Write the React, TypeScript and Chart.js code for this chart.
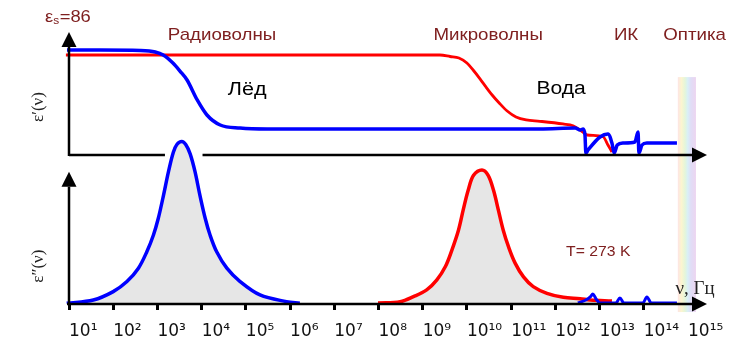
import React, { useEffect, useRef } from "react";
import { Chart, registerables } from "chart.js";

Chart.register(...registerables);

// x values are log10(frequency, Hz)
const DECADES = [1, 2, 3, 4, 5, 6, 7, 8, 9, 10, 11, 12, 13, 14, 15];
const TICK_LABELS = ["10¹", "10²", "10³", "10⁴", "10⁵", "10⁶", "10⁷", "10⁸", "10⁹", "10¹⁰", "10¹¹", "10¹²", "10¹³", "10¹⁴", "10¹⁵"];

// ε'(ν) — ice (blue)
const iceRealLog = [0.955, 1.7, 2.61, 2.95, 3.13, 3.35, 3.51, 3.67, 3.9, 4.12, 4.42, 4.87, 5.48, 8.49, 11.65, 12.45, 12.56, 12.63, 12.67, 12.69, 12.74, 13.01, 13.19, 13.28, 13.33, 13.4, 13.53, 13.8, 13.87, 13.89, 13.96, 14.07, 14.75];
const iceRealVal = [90.3, 90.3, 89.9, 88.6, 86.0, 79.1, 72.2, 64.5, 47.3, 34.4, 25.8, 23.2, 22.4, 22.4, 22.4, 23.2, 21.5, 22.4, 17.2, 1.7, 4.3, 15.5, 18.1, 10.3, 1.7, 8.6, 10.3, 11.2, 19.8, 1.7, 8.6, 10.3, 10.3];

// ε'(ν) — water (red)
const waterRealLog = [0.93, 6.0, 9.39, 9.62, 9.82, 10.0, 10.14, 10.3, 10.43, 10.57, 10.73, 10.91, 11.11, 11.34, 11.65, 12.17, 12.4, 12.56, 12.72, 13.08, 13.19, 13.28];
const waterRealVal = [86, 86, 86, 84.7, 83.4, 79.1, 73.1, 65.3, 58.5, 51.6, 44.7, 37.8, 32.7, 30.1, 29.0, 26.7, 25.2, 21.5, 17.2, 15.7, 8.6, 2.6];

// ε''(ν) — ice (blue)
const iceLossLog = [0.948, 1.55, 2.0, 2.31, 2.57, 2.76, 2.91, 3.02, 3.13, 3.25, 3.36, 3.44, 3.55, 3.64, 3.74, 3.85, 3.96, 4.08, 4.19, 4.34, 4.57, 4.87, 5.32, 5.92, 6.22];
const iceLossVal = [0.2, 1.2, 3.7, 6.7, 10.7, 15.6, 20.6, 25.6, 32.0, 39.5, 45.3, 47.6, 48.5, 47.6, 44.8, 39.5, 32.5, 25.6, 20.6, 15.6, 10.7, 6.7, 2.7, 0.7, 0.2];

// ε''(ν) — ice, infrared bands (blue)
const iceIrLossLog = [12.51, 12.69, 12.79, 12.85, 12.92, 13.01, 13.37, 13.46, 13.55, 13.98, 14.07, 14.17, 14.75];
const iceIrLossVal = [0.3, 1.2, 2.1, 3.0, 1.5, 0.3, 0.3, 1.8, 0.3, 0.3, 2.1, 0.3, 0.3];

// ε''(ν) — water (red)
const waterLossLog = [7.99, 8.49, 8.79, 9.09, 9.32, 9.51, 9.66, 9.81, 9.92, 10.03, 10.15, 10.34, 10.48, 10.6, 10.71, 10.82, 10.94, 11.09, 11.28, 11.5, 11.81, 12.18, 12.56, 12.79, 13.28];
const waterLossVal = [0.3, 0.7, 2.2, 4.2, 7.2, 11.1, 16.1, 22.1, 28.3, 34.0, 38.4, 40.0, 38.4, 34.0, 28.1, 22.1, 17.1, 12.2, 8.1, 5.2, 3.2, 2.0, 1.6, 1.2, 0.9];

const DARK_RED = "#7f2020";
const BLUE = "#0000ff";
const RED = "#ff0000";
const FILL = "#e6e6e6";

// scale ranges
const X_MIN = 0.6833;
const X_MAX = 15.5429;
const Y1_MIN = -128.12;
const Y1_MAX = 107.48;
const Y2_MIN = 0;
const Y2_MAX = 81.79;

// decoration anchors (data units)
const AXIS_X = 1;
const AXIS_END = 15.43;
const UPPER_AXIS_GAP = [3.17, 4.02];
const UPPER_ARROW_TOP = 105.8; // y1 units
const LOWER_ARROW_TOP = 39.5; // y2 units
const STRIP_X = [14.77, 15.18];
const STRIP_TOP = 67; // y1
const STRIP_BOTTOM = -2.4; // y2

type Ann = { text: string; x: number; y: number; axis: "y1" | "y2"; font: string; color: string; sx?: number; rot?: boolean };
const ANNOTATIONS: Ann[] = [
  { text: "Радиоволны", x: 4.46, y: 103.2, axis: "y1", font: "17px 'Liberation Sans'", color: DARK_RED, sx: 1.1 },
  { text: "Микроволны", x: 10.48, y: 103.2, axis: "y1", font: "17px 'Liberation Sans'", color: DARK_RED, sx: 1.1 },
  { text: "ИК", x: 13.6, y: 103.2, axis: "y1", font: "17px 'Liberation Sans'", color: DARK_RED, sx: 1.1 },
  { text: "Оптика", x: 15.15, y: 103.2, axis: "y1", font: "17px 'Liberation Sans'", color: DARK_RED, sx: 1.1 },
  { text: "Лёд", x: 5.03, y: 55.9, axis: "y1", font: "18px 'Liberation Sans'", color: "#000", sx: 1.2 },
  { text: "Вода", x: 12.13, y: 56.7, axis: "y1", font: "18px 'Liberation Sans'", color: "#000", sx: 1.17 },
  { text: "T= 273 K", x: 12.97, y: 15.5, axis: "y2", font: "15px 'Liberation Sans'", color: DARK_RED, sx: 1.05 },
  { text: "ν, Гц", x: 15.16, y: 4.5, axis: "y2", font: "18px 'Liberation Serif'", color: "#222", sx: 1.05 },
  { text: "ε′(ν)", x: 0.3, y: 41.3, axis: "y1", font: "17px 'Liberation Serif'", color: "#222", rot: true },
  { text: "ε″(ν)", x: 0.3, y: 11.3, axis: "y2", font: "17px 'Liberation Serif'", color: "#222", rot: true },
];
const EPS_S_LABEL = { main: "ε", sub: "s", rest: "=86", x: 0.457, y: 118.7 };

const pts = (xs: number[], ys: number[]) => xs.map((x, i) => ({ x, y: ys[i] }));

const decoPlugin = {
  id: "deco",
  beforeDatasetsDraw(chart: any) {
    const { ctx, scales } = chart;
    const { x, y1, y2 } = scales;
    const x0 = x.getPixelForValue(STRIP_X[0]);
    const x1 = x.getPixelForValue(STRIP_X[1]);
    const top = y1.getPixelForValue(STRIP_TOP);
    const bot = y2.getPixelForValue(STRIP_BOTTOM);
    const g = ctx.createLinearGradient(x0, 0, x1, 0);
    g.addColorStop(0, "#fde4e4");
    g.addColorStop(0.2, "#fcf5d0");
    g.addColorStop(0.4, "#e4f6da");
    g.addColorStop(0.55, "#d9eff7");
    g.addColorStop(0.72, "#e0ddf6");
    g.addColorStop(1, "#edd5f0");
    ctx.save();
    ctx.fillStyle = g;
    ctx.fillRect(x0, top, x1 - x0, bot - top);
    ctx.restore();
  },
  afterDatasetsDraw(chart: any) {
    const { ctx, scales } = chart;
    const { x, y1, y2 } = scales;
    const ax = x.getPixelForValue(AXIS_X);
    const xEnd = x.getPixelForValue(AXIS_END);
    const upY = y1.getPixelForValue(0);
    const loY = y2.getPixelForValue(0);
    const g0 = x.getPixelForValue(UPPER_AXIS_GAP[0]);
    const g1 = x.getPixelForValue(UPPER_AXIS_GAP[1]);
    const upTop = y1.getPixelForValue(UPPER_ARROW_TOP);
    const loTop = y2.getPixelForValue(LOWER_ARROW_TOP);
    const AH = 15; // arrow length
    const AW = 7.5; // arrow half width

    ctx.save();
    ctx.strokeStyle = "#000";
    ctx.fillStyle = "#000";
    ctx.lineWidth = 2.5;
    ctx.lineCap = "butt";
    ctx.beginPath();
    ctx.moveTo(ax, upY + 1);
    ctx.lineTo(ax, upTop + AH);
    ctx.moveTo(ax, loY + 1);
    ctx.lineTo(ax, loTop + AH);
    ctx.moveTo(ax, upY);
    ctx.lineTo(g0, upY);
    ctx.moveTo(g1, upY);
    ctx.lineTo(xEnd - AH, upY);
    ctx.moveTo(ax - 2, loY);
    ctx.lineTo(xEnd - AH, loY);
    ctx.stroke();

    const upArrow = (px: number, py: number) => {
      ctx.beginPath();
      ctx.moveTo(px, py);
      ctx.lineTo(px - AW, py + AH);
      ctx.lineTo(px + AW, py + AH);
      ctx.closePath();
      ctx.fill();
    };
    const rightArrow = (px: number, py: number) => {
      ctx.beginPath();
      ctx.moveTo(px, py);
      ctx.lineTo(px - AH, py - AW);
      ctx.lineTo(px - AH, py + AW);
      ctx.closePath();
      ctx.fill();
    };
    upArrow(ax, upTop);
    upArrow(ax, loTop);
    rightArrow(xEnd, upY);
    rightArrow(xEnd, loY);

    ctx.textBaseline = "middle";
    ctx.textAlign = "center";
    for (const a of ANNOTATIONS) {
      const px = x.getPixelForValue(a.x);
      const py = (a.axis === "y1" ? y1 : y2).getPixelForValue(a.y);
      ctx.font = a.font;
      ctx.fillStyle = a.color;
      ctx.save();
      ctx.translate(px, py);
      if (a.rot) ctx.rotate(-Math.PI / 2);
      if (a.sx) ctx.scale(a.sx, 1);
      ctx.fillText(a.text, 0, 0);
      ctx.restore();
    }

    // ε_s = 86
    const ex = x.getPixelForValue(EPS_S_LABEL.x);
    const ey = y1.getPixelForValue(EPS_S_LABEL.y);
    ctx.save();
    ctx.translate(ex, ey);
    ctx.scale(1.08, 1);
    ctx.textAlign = "left";
    ctx.fillStyle = DARK_RED;
    ctx.font = "17px 'Liberation Sans'";
    ctx.fillText(EPS_S_LABEL.main, 0, 0);
    let cx = ctx.measureText(EPS_S_LABEL.main).width;
    ctx.font = "11px 'Liberation Sans'";
    ctx.fillText(EPS_S_LABEL.sub, cx, 4);
    cx += ctx.measureText(EPS_S_LABEL.sub).width + 0.5;
    ctx.font = "17px 'Liberation Sans'";
    ctx.fillText(EPS_S_LABEL.rest, cx, 0);
    ctx.restore();
    ctx.restore();
  },
};

export default function App() {
  const ref = useRef<HTMLCanvasElement | null>(null);
  useEffect(() => {
    if (!ref.current) return;
    const lineDs = (label: string, data: any[], color: string, yAxisID: string, width: number, fill: any = false, smooth = false) => ({
      label,
      data,
      borderColor: color,
      backgroundColor: FILL,
      borderWidth: width,
      pointRadius: 0,
      cubicInterpolationMode: smooth ? ("default" as const) : ("monotone" as const),
      tension: smooth ? 0.35 : 0,
      fill,
      yAxisID,
      xAxisID: "x",
    });
    const chart = new Chart(ref.current, {
      type: "line",
      data: {
        datasets: [
          lineDs("ε' лёд", pts(iceRealLog, iceRealVal), BLUE, "y1", 3.5),
          lineDs("ε' вода", pts(waterRealLog, waterRealVal), RED, "y1", 2.8),
          lineDs("ε'' лёд ИК", pts(iceIrLossLog, iceIrLossVal), BLUE, "y2", 3),
          lineDs("ε'' лёд", pts(iceLossLog, iceLossVal), BLUE, "y2", 3.5, "origin", true),
          lineDs("ε'' вода", pts(waterLossLog, waterLossVal), RED, "y2", 3.5, "origin", true),
        ],
      },
      options: {
        animation: false,
        responsive: false,
        events: [],
        layout: { padding: { left: 55, right: 40, top: 30, bottom: 0 } },
        plugins: {
          legend: { display: false },
          tooltip: { enabled: false },
          title: { display: false },
        },
        scales: {
          x: {
            type: "linear",
            position: "bottom",
            min: X_MIN,
            max: X_MAX,
            afterBuildTicks: (s: any) => {
              s.ticks = DECADES.map((v) => ({ value: v }));
            },
            afterFit: (s: any) => {
              s.height = 37;
            },
            ticks: {
              padding: 11,
              align: "start",
              color: "#111",
              autoSkip: false,
              maxRotation: 0,
              font: { family: "'DejaVu Sans'", size: 17 },
              callback: (v: any) => {
                const i = DECADES.indexOf(Number(v));
                return i >= 0 ? TICK_LABELS[i] : "";
              },
            },
            grid: {
              display: true,
              drawOnChartArea: false,
              drawTicks: true,
              tickLength: 6,
              tickWidth: 3,
              tickColor: "#000",
            },
            border: { display: false },
          },
          y1: { type: "linear", display: false, min: Y1_MIN, max: Y1_MAX },
          y2: { type: "linear", display: false, min: Y2_MIN, max: Y2_MAX },
        },
      },
      plugins: [decoPlugin],
    } as any);
    return () => chart.destroy();
  }, []);
  return (
    <div style={{ position: "absolute", left: 0, top: 0, width: 752, height: 341, background: "#fff" }}>
      <canvas ref={ref} width={752} height={341} style={{ display: "block", width: 752, height: 341 }} />
    </div>
  );
}
